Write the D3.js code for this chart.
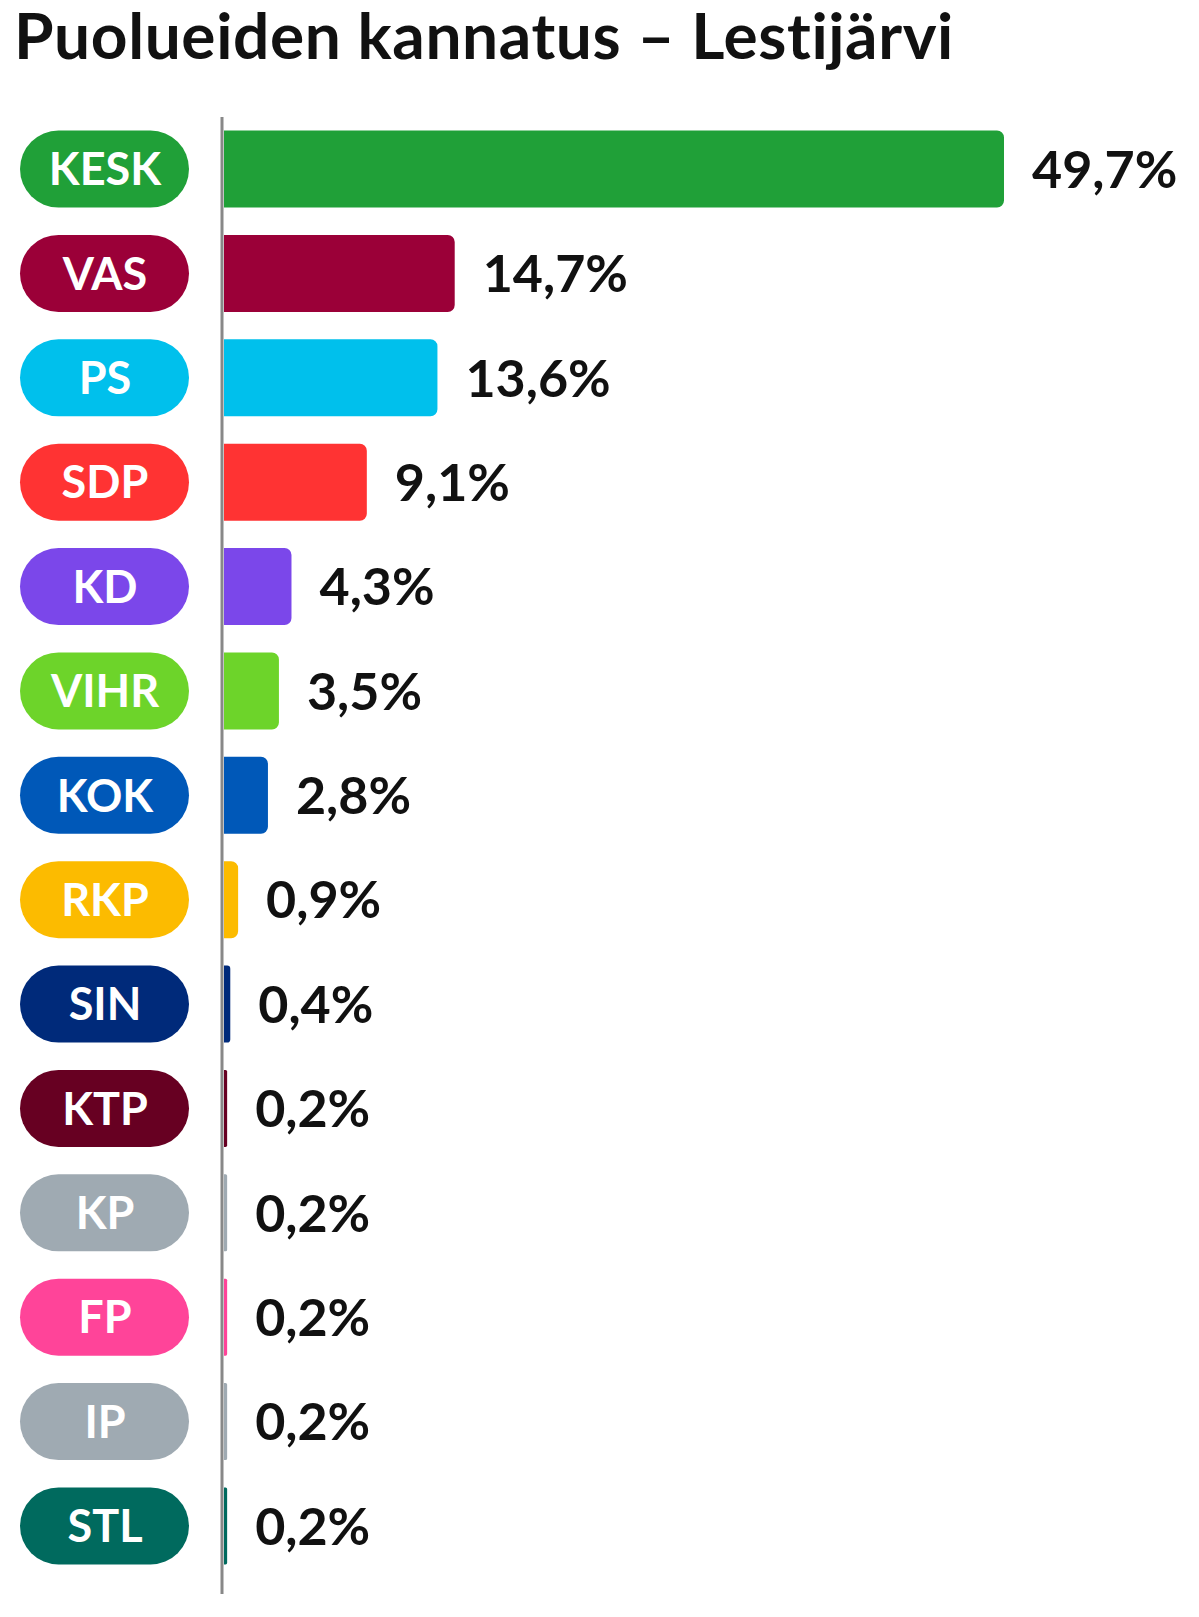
<!DOCTYPE html>
<html><head><meta charset="utf-8">
<script src="https://cdn.jsdelivr.net/npm/d3@7"></script>
<style>body{margin:0;background:#fff}text{font-family:Lato,"Noto Sans",sans-serif;font-weight:700}</style>
</head><body><svg id="c" width="1199" height="1617"></svg>
<script>
var parties = ['KESK','VAS','PS','SDP','KD','VIHR','KOK','RKP','SIN','KTP','KP','FP','IP','STL'];
var shares = [49.7,14.7,13.6,9.1,4.3,3.5,2.8,0.9,0.4,0.2,0.2,0.2,0.2,0.2];
var colors = ['#20a038','#9b0038','#00c0ec','#ff3333','#7b47ea','#6dd42a','#0058b8','#fcbb00','#002a7a','#670022','#9faab2','#ff4499','#9faab2','#006a5e'];

var svg = d3.select('#c');
var x = d3.scaleLinear().domain([0, 49.7]).range([224, 1004]);
var y = d3.scaleBand().domain(parties).range([117, 1578]).paddingInner(0.262).paddingOuter(0.13);
var h = y.bandwidth();

svg.append('text').attr('x', 14).attr('y', 59).attr('font-size', 64).attr('letter-spacing', 0.6)
  .attr('fill', '#111').text('Puolueiden kannatus – Lestijärvi');

// bars, only the right end rounded
function barPath(d, i) {
  var x0 = x(0), x1 = x(d), y0 = y(parties[i]), r = Math.min(7, (x1 - x0) / 2);
  var p = d3.path();
  p.moveTo(x0, y0);
  p.lineTo(x1 - r, y0);
  p.arcTo(x1, y0, x1, y0 + r, r);
  p.lineTo(x1, y0 + h - r);
  p.arcTo(x1, y0 + h, x1 - r, y0 + h, r);
  p.lineTo(x0, y0 + h);
  p.closePath();
  return p.toString();
}
svg.selectAll('.bar').data(shares).enter().append('path')
  .attr('d', barPath).attr('fill', function(d, i) { return colors[i]; });

svg.selectAll('.val').data(shares).enter().append('text')
  .attr('x', function(d) { return x(d) + 28; })
  .attr('y', function(d, i) { return y(parties[i]) + h / 2; })
  .attr('dy', '0.36em').attr('font-size', 52).attr('fill', '#111')
  .text(function(d) { return d.toFixed(1).replace('.', ',') + '%'; });

// party pills
var pill = svg.selectAll('.pill').data(parties).enter().append('g')
  .attr('transform', function(d) { return 'translate(20,' + y(d) + ')'; });
pill.append('rect').attr('width', 169).attr('height', h).attr('rx', h / 2)
  .attr('fill', function(d, i) { return colors[i]; });
pill.append('text').attr('x', 85).attr('y', h / 2).attr('dy', '0.36em')
  .attr('text-anchor', 'middle').attr('font-size', 45).attr('fill', '#fff')
  .text(function(d) { return d; });

svg.append('line').attr('x1', 222).attr('x2', 222).attr('y1', 117).attr('y2', 1594)
  .attr('stroke', '#888').attr('stroke-width', 3);
</script></body></html>
